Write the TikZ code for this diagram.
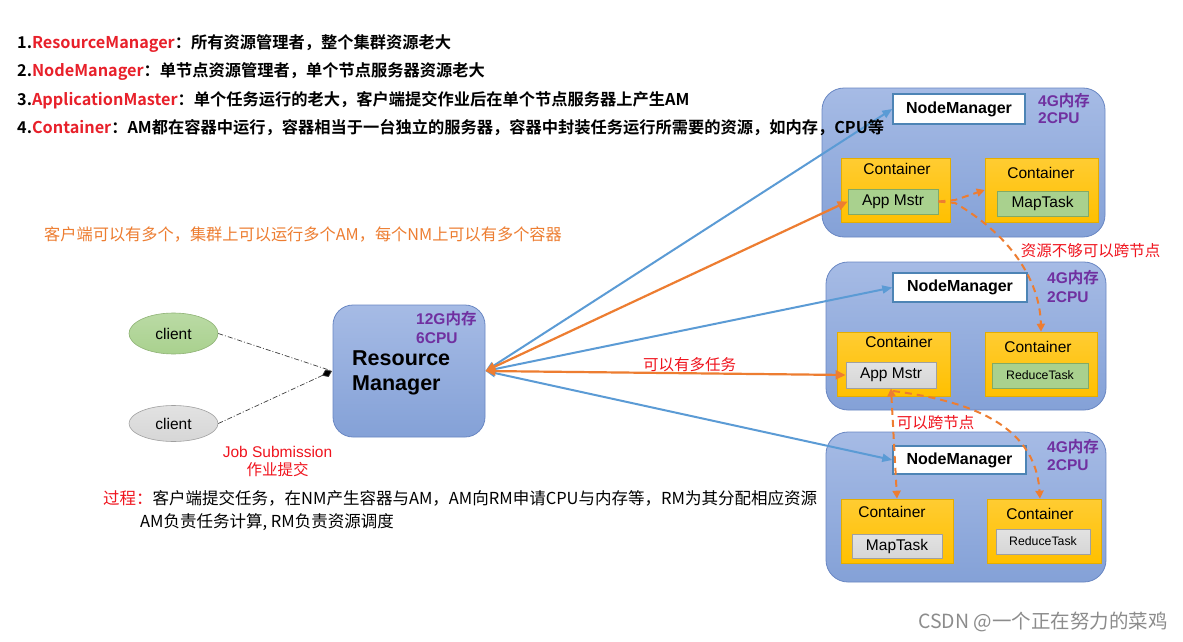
\documentclass[tikz,border=0pt]{standalone}
\usepackage{fontspec}
\setmainfont{Noto Sans CJK SC}[BoldFont={* Bold}]
\newfontfamily\ar{Liberation Sans}
\usetikzlibrary{arrows.meta,shapes.geometric}
\definecolor{tred}{HTML}{E8202A}
\definecolor{lred}{HTML}{F0141E}
\definecolor{torange}{HTML}{ED7D31}
\definecolor{lblue}{HTML}{5B9BD5}
\definecolor{purp}{HTML}{7030A0}
\definecolor{boxtop}{RGB}{166,187,229}
\definecolor{boxbot}{RGB}{132,161,215}
\definecolor{boxline}{RGB}{105,135,195}
\definecolor{gold}{RGB}{255,192,0}
\definecolor{goldtop}{RGB}{255,204,50}
\definecolor{ggreen}{RGB}{169,209,142}
\definecolor{ggreenl}{RGB}{130,170,100}
\definecolor{ggray}{RGB}{214,214,214}
\definecolor{ggrayl}{RGB}{160,160,160}
\tikzset{
  txt/.style={inner sep=0pt, anchor=west},
  bigbox/.style={rectangle, rounded corners=22pt, draw=boxline, line width=0.8pt, top color=boxtop, bottom color=boxbot},
  nmbox/.style={rectangle, draw=lblue!85!black, line width=1.4pt, fill=white, font=\ar\fontsize{16}{18}\selectfont\bfseries},
  contbox/.style={rectangle, draw=gold!90!black, line width=0.6pt, top color=goldtop, bottom color=gold},
  greenbox/.style={rectangle, draw=ggreenl, line width=0.8pt, fill=ggreen, font=\ar\fontsize{15.5}{18}\selectfont},
  graybox/.style={rectangle, draw=ggrayl, line width=0.8pt, top color=ggray!70!white, bottom color=ggray, font=\ar\fontsize{15.5}{18}\selectfont},
  conttxt/.style={inner sep=0pt, font=\ar\fontsize{15.5}{18}\selectfont},
  purptxt/.style={inner sep=0pt, anchor=west, text=purp, font=\ar\fontsize{15.5}{17}\selectfont\bfseries},
  redlbl/.style={inner sep=0pt, text=lred, font=\fontsize{15.5}{18}\selectfont},
  barrow/.style={draw=lblue, line width=2pt, {Triangle[length=10pt,width=8pt]}-{Triangle[length=10pt,width=8pt]}},
  oarrow/.style={draw=torange, line width=2.2pt, {Triangle[length=10pt,width=9pt]}-{Triangle[length=10pt,width=9pt]}},
  darrow/.style={draw=torange, line width=2pt, dash pattern=on 7pt off 5pt, -{Triangle[length=8pt,width=8pt]}},
  ddline/.style={draw=black!75, line width=0.7pt, dash pattern=on 5pt off 2pt on 1pt off 2pt},
}
\begin{document}
\begin{tikzpicture}[x=1pt,y=-1pt]
\useasboundingbox (0,0) rectangle (1183,642);
\fill[white] (0,0) rectangle (1183,642);

\node[txt, text=torange, font=\fontsize{16.2}{18}\selectfont] (multi) at (44,234) {客户端可以有多个，集群上可以运行多个AM，每个NM上可以有多个容器};

% clients and resource manager
\node[ellipse, draw=ggreenl!90, line width=0.6pt, top color=ggreen!80!white, bottom color=ggreen, minimum width=89pt, minimum height=41pt, font=\ar\fontsize{15.5}{18}\selectfont] (c1) at (173.5,333.5) {client};
\node[ellipse, draw=ggrayl, line width=0.6pt, top color=ggray!70!white, bottom color=ggray, minimum width=89pt, minimum height=36pt, font=\ar\fontsize{15.5}{18}\selectfont] (c2) at (173.5,423.5) {client};

\node[rectangle, rounded corners=20pt, draw=boxline, line width=0.8pt, top color=boxtop, bottom color=boxbot, minimum width=152pt, minimum height=132pt] (rm) at (409,371) {};
\node[purptxt] (rmres1) at (416,319) {12G\normalfont\fontsize{15.5}{17}\selectfont\bfseries 内存};
\node[purptxt] (rmres2) at (416,338) {6CPU};
\node[txt, font=\ar\fontsize{21.5}{24}\selectfont\bfseries] (rmt1) at (352,358) {Resource};
\node[txt, font=\ar\fontsize{21.5}{24}\selectfont\bfseries] (rmt2) at (352,385) {Manager};

\coordinate (dm) at (332,371);
\draw[ddline] (c1.east) -- (dm);
\draw[ddline, -{Diamond[length=11pt,width=8pt,fill=black]}] (c2.east) -- (dm);

\node[redlbl, font=\ar\fontsize{15.5}{18}\selectfont] (js1) at (277.5,452) {Job Submission};
\node[redlbl] (js2) at (277.5,470) {作业提交};

\node[txt, font=\fontsize{16.5}{18}\selectfont] (proc1) at (103,498) {\textcolor{lred}{过程：}客户端提交任务，在NM产生容器与AM，AM向RM申请CPU与内存等，RM为其分配相应资源};
\node[txt, font=\fontsize{16.5}{18}\selectfont] (proc2) at (140,522) {AM负责任务计算, RM负责资源调度};

% node 1
\node[bigbox, minimum width=283pt, minimum height=149pt] (n1) at (963.5,162.5) {};
\node[nmbox, minimum width=132pt, minimum height=30pt] (nm1) at (959,109) {NodeManager};
\node[purptxt] (r1a) at (1038,101) {4G\normalfont\fontsize{15.5}{17}\selectfont\bfseries 内存};
\node[purptxt] (r1b) at (1038,118) {2CPU};
\node[contbox, minimum width=109pt, minimum height=64pt] (c11) at (895.5,190) {};
\node[conttxt] (c11t) at (897,169) {Container};
\node[greenbox, minimum width=90pt, minimum height=25pt] (am1) at (893,201.5) {App Mstr};
\node[contbox, minimum width=113pt, minimum height=64pt] (c12) at (1041.5,190) {};
\node[conttxt] (c12t) at (1041,173) {Container};
\node[greenbox, minimum width=91pt, minimum height=25pt] (mt1) at (1042.5,203.5) {MapTask};

% node 2
\node[bigbox, minimum width=280pt, minimum height=148pt] (n2) at (966,336) {};
\node[nmbox, minimum width=134pt, minimum height=29pt] (nm2) at (960,287.5) {NodeManager};
\node[purptxt] (r2a) at (1047,278) {4G\normalfont\fontsize{15.5}{17}\selectfont\bfseries 内存};
\node[purptxt] (r2b) at (1047,297) {2CPU};
\node[contbox, minimum width=113pt, minimum height=64pt] (c21) at (893.5,364) {};
\node[conttxt] (c21t) at (899,342) {Container};
\node[graybox, minimum width=90pt, minimum height=26pt] (am2) at (891,375) {App Mstr};
\node[contbox, minimum width=112pt, minimum height=64pt] (c22) at (1041,364) {};
\node[conttxt] (c22t) at (1038,347) {Container};
\node[greenbox, minimum width=96pt, minimum height=25pt, font=\ar\fontsize{12.3}{14}\selectfont] (rt2) at (1040,375.5) {ReduceTask};

% node 3
\node[bigbox, minimum width=280pt, minimum height=150pt] (n3) at (966,507) {};
\node[nmbox, minimum width=133pt, minimum height=28pt] (nm3) at (959.5,460) {NodeManager};
\node[purptxt] (r3a) at (1047,447) {4G\normalfont\fontsize{15.5}{17}\selectfont\bfseries 内存};
\node[purptxt] (r3b) at (1047,465) {2CPU};
\node[contbox, minimum width=112pt, minimum height=64pt] (c31) at (897,531) {};
\node[conttxt] (c31t) at (892,512) {Container};
\node[graybox, minimum width=90pt, minimum height=24pt] (mt3) at (897,546) {MapTask};
\node[contbox, minimum width=114pt, minimum height=64pt] (c32) at (1044,531) {};
\node[conttxt] (c32t) at (1040,514) {Container};
\node[graybox, minimum width=94pt, minimum height=25pt, font=\ar\fontsize{12.3}{14}\selectfont] (rt3) at (1043,541.5) {ReduceTask};

% RM <-> nodes
\draw[barrow] (rm.east) -- (nm1.west);
\draw[barrow] (rm.east) -- (nm2.west);
\draw[barrow] (rm.east) -- (nm3.west);
\draw[oarrow] (rm.east) -- (am1.west);
\draw[oarrow] (rm.east) -- (am2.west);
\node[redlbl] (multitask) at (689.5,365) {可以有多任务};

% dashed cross-node arrows
\coordinate (a1) at (955,200);
\draw[darrow] (am1.east) -- (a1) -- (c12.west);
\coordinate (a2) at (955,203);
\draw[darrow] (am1.east) -- (a2) .. controls (1010,235) and (1040,280) .. (c22.north);
\draw[darrow, {Triangle[length=8pt,width=8pt]}-{Triangle[length=8pt,width=8pt]}] (am2.south) -- (c31.north);
\coordinate (a3) at (893,391);
\draw[darrow] (a3) .. controls (960,400) and (1035,420) .. ([xshift=-4pt]c32.north);

\node[redlbl] (cross1) at (1090.5,251) {资源不够可以跨节点};
\node[redlbl] (cross2) at (935.5,423) {可以跨节点};

% top description lines (drawn over the node boxes)
\begin{scope}[every node/.style={txt, font=\fontsize{16.25}{19}\selectfont\bfseries}]
\node (l1) at (17,44) {1.\textcolor{tred}{ResourceManager}：所有资源管理者，整个集群资源老大};
\node (l2) at (17,72) {2.\textcolor{tred}{NodeManager}：单节点资源管理者，单个节点服务器资源老大};
\node (l3) at (17,100) {3.\textcolor{tred}{ApplicationMaster}：单个任务运行的老大，客户端提交作业后在单个节点服务器上产生AM};
\node (l4) at (17,128) {4.\textcolor{tred}{Container}：AM都在容器中运行，容器相当于一台独立的服务器，容器中封装任务运行所需要的资源，如内存，CPU等};
\end{scope}

\node[txt, text=black!45, font=\fontsize{19.5}{22}\selectfont] (wm) at (918,622) {CSDN @一个正在努力的菜鸡};
\end{tikzpicture}
\end{document}
